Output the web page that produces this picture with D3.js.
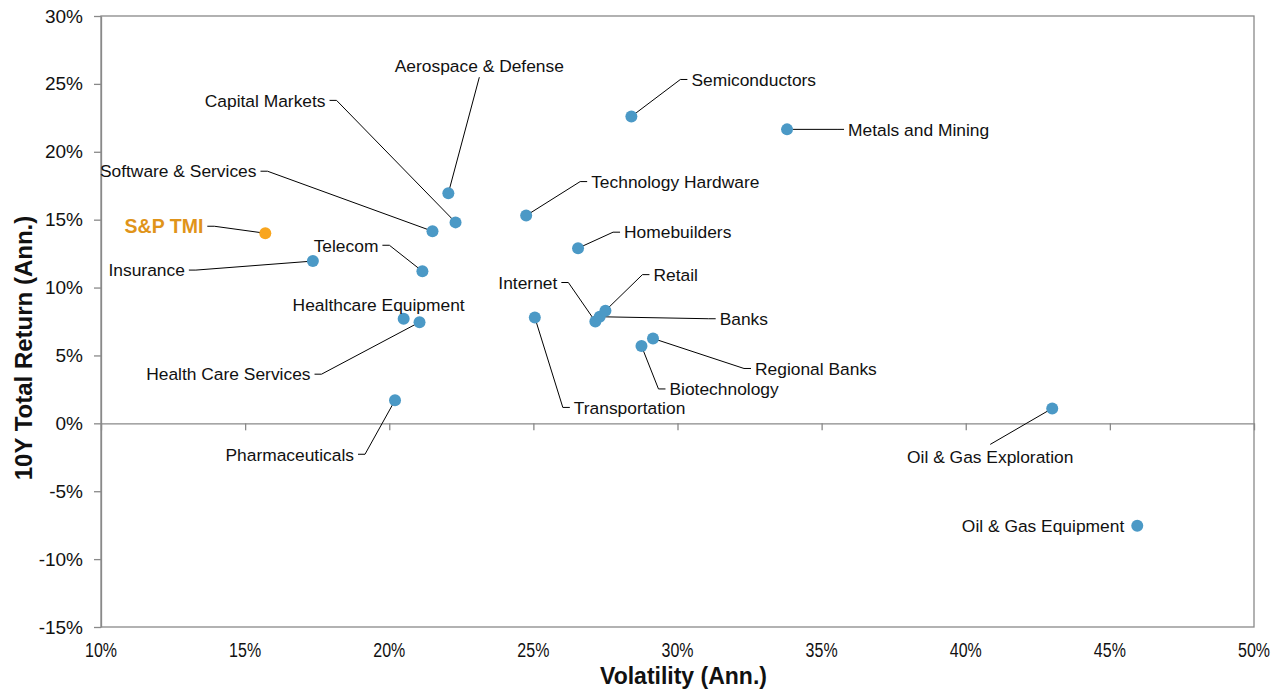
<!DOCTYPE html>
<html lang="en">
<head>
<meta charset="utf-8">
<title>Sector risk / return</title>
<script src="https://d3js.org/d3.v7.min.js"></script>
<style>
  body { margin: 0; background: #fff; }
  svg text { font-family: "Liberation Sans", Arial, sans-serif; }
</style>
</head>
<body>
<div id="chart"></div>
<script>
// Data (annualised %, 10 years)
const sectors = ["S&P TMI", "Insurance", "Software & Services", "Capital Markets", "Aerospace & Defense",
  "Telecom", "Healthcare Equipment", "Health Care Services", "Pharmaceuticals", "Technology Hardware",
  "Homebuilders", "Semiconductors", "Metals and Mining", "Transportation", "Internet", "Banks", "Retail",
  "Biotechnology", "Regional Banks", "Oil & Gas Exploration", "Oil & Gas Equipment"];
const volatility = [15.7, 17.35, 21.5, 22.3, 22.05, 21.15, 20.5, 21.05, 20.2, 24.75, 26.55, 28.4, 33.8,
  25.05, 27.15, 27.3, 27.5, 28.75, 29.15, 43.0, 45.95];
const totalReturn = [14.0, 11.95, 14.15, 14.8, 16.95, 11.2, 7.7, 7.45, 1.7, 15.3, 12.9, 22.6, 21.65,
  7.8, 7.5, 7.85, 8.3, 5.7, 6.25, 1.1, -7.55];
const xTicks = [10, 15, 20, 25, 30, 35, 40, 45, 50];
const yTicks = [-15, -10, -5, 0, 5, 10, 15, 20, 25, 30];

// label placement: offset of label from its point (px), anchor, leader end override
const labelLayout = {
  "S&P TMI": { dx: -62, dy: -7, anchor: "end" },
  "Insurance": { dx: -128, dy: 9, anchor: "end" },
  "Software & Services": { dx: -176, dy: -60, anchor: "end" },
  "Capital Markets": { dx: -130, dy: -122, anchor: "end" },
  "Aerospace & Defense": { dx: 31, dy: -127, anchor: "middle", lx: 31, ly: -116 },
  "Telecom": { dx: -44, dy: -26, anchor: "end" },
  "Healthcare Equipment": { dx: -25, dy: -14, anchor: "middle", noLeader: true },
  "Health Care Services": { dx: -109, dy: 52, anchor: "end" },
  "Pharmaceuticals": { dx: -41, dy: 54, anchor: "end" },
  "Technology Hardware": { dx: 65, dy: -34, anchor: "start" },
  "Homebuilders": { dx: 46, dy: -16, anchor: "start" },
  "Semiconductors": { dx: 60, dy: -37, anchor: "start" },
  "Metals and Mining": { dx: 61, dy: 0, anchor: "start" },
  "Transportation": { dx: 39, dy: 90, anchor: "start" },
  "Internet": { dx: -38, dy: -39, anchor: "end" },
  "Banks": { dx: 120, dy: 2, anchor: "start" },
  "Retail": { dx: 48, dy: -36, anchor: "start" },
  "Biotechnology": { dx: 28, dy: 43, anchor: "start" },
  "Regional Banks": { dx: 102, dy: 30, anchor: "start" },
  "Oil & Gas Exploration": { dx: -62, dy: 48, anchor: "middle", lx: -62, ly: 36 },
  "Oil & Gas Equipment": { dx: -13, dy: 0, anchor: "end", noLeader: true }
};

const data = sectors.map((s, i) => ({ name: s, vol: volatility[i], ret: totalReturn[i] }));

const W = 1280, H = 689;
const margin = { top: 16, right: 26, bottom: 62, left: 101 };

const svg = d3.select("#chart").append("svg")
  .attr("width", W)
  .attr("height", H);

const x = d3.scaleLinear().domain([10, 50]).range([margin.left, W - margin.right]);
const y = d3.scaleLinear().domain([-15, 30]).range([H - margin.bottom, margin.top]);

const axisColor = "#898989";

// frame
svg.append("rect")
  .attr("x", x(10)).attr("y", y(30))
  .attr("width", x(50) - x(10)).attr("height", y(-15) - y(30))
  .attr("fill", "none").attr("stroke", axisColor).attr("stroke-width", 1.3);

// y axis
const yAxis = svg.append("g")
  .attr("transform", `translate(${x(10)},0)`)
  .call(d3.axisLeft(y).tickValues(yTicks).tickSize(7).tickSizeOuter(0).tickPadding(11)
    .tickFormat(d => d + "%"));
yAxis.select(".domain").attr("stroke", axisColor).attr("stroke-width", 1.3);
yAxis.selectAll(".tick line").attr("stroke", axisColor).attr("stroke-width", 1.3);
yAxis.selectAll(".tick text")
  .attr("fill", "#111")
  .style("font-size", "19px")
  .style("font-family", "'Liberation Sans', Arial, sans-serif");

// x axis crosses at 0, labels sit at the bottom
const xAxis = svg.append("g")
  .attr("transform", `translate(0,${y(0)})`)
  .call(d3.axisBottom(x).tickValues(xTicks).tickSize(7).tickSizeOuter(0).tickFormat(""));
xAxis.select(".domain").attr("stroke", axisColor).attr("stroke-width", 1.3);
xAxis.selectAll(".tick line").attr("stroke", axisColor).attr("stroke-width", 1.3);

svg.append("g").selectAll("text")
  .data(xTicks)
  .join("text")
  .attr("transform", d => `translate(${x(d)},${y(-15) + 30}) scale(0.82,1)`)
  .attr("text-anchor", "middle")
  .attr("fill", "#111")
  .style("font-size", "19.5px")
  .text(d => d + "%");

// axis titles
svg.append("text")
  .attr("x", (x(10) + x(50)) / 2 + 6)
  .attr("y", 684)
  .attr("text-anchor", "middle")
  .style("font-size", "23px")
  .style("font-weight", "bold")
  .attr("fill", "#111")
  .text("Volatility (Ann.)");

svg.append("text")
  .attr("transform", `translate(32,348) rotate(-90)`)
  .attr("text-anchor", "middle")
  .style("font-size", "24px")
  .style("font-weight", "bold")
  .attr("fill", "#111")
  .text("10Y Total Return (Ann.)");

// leader lines
const leaders = svg.append("g");
data.forEach(d => {
  const L = labelLayout[d.name];
  if (!L || L.noLeader) return;
  const px = x(d.vol), py = y(d.ret);
  let pts;
  if (L.anchor === "end") {
    const ex = px + L.dx + 4, ey = py + L.dy;
    pts = [[ex, ey], [ex + 7, ey], [px, py]];
  } else if (L.anchor === "start") {
    const ex = px + L.dx - 4, ey = py + L.dy;
    pts = [[ex, ey], [ex - 7, ey], [px, py]];
  } else {
    pts = [[px + L.lx, py + L.ly], [px, py]];
  }
  leaders.append("path")
    .attr("d", d3.line()(pts))
    .attr("fill", "none")
    .attr("stroke", "#000")
    .attr("stroke-width", 1);
});

// points
svg.append("g").selectAll("circle")
  .data(data)
  .join("circle")
  .attr("cx", d => x(d.vol))
  .attr("cy", d => y(d.ret))
  .attr("r", 6)
  .attr("fill", d => d.name === "S&P TMI" ? "#F8A51E" : "#4B99C6");

// labels
svg.append("g").selectAll("text")
  .data(data)
  .join("text")
  .attr("x", d => x(d.vol) + labelLayout[d.name].dx)
  .attr("y", d => y(d.ret) + labelLayout[d.name].dy)
  .attr("dy", "0.36em")
  .attr("text-anchor", d => labelLayout[d.name].anchor)
  .attr("fill", d => d.name === "S&P TMI" ? "#E0941A" : "#111")
  .style("font-size", d => d.name === "S&P TMI" ? "19.5px" : "17.4px")
  .style("font-weight", d => d.name === "S&P TMI" ? "bold" : "normal")
  .text(d => d.name);
</script>
</body>
</html>
